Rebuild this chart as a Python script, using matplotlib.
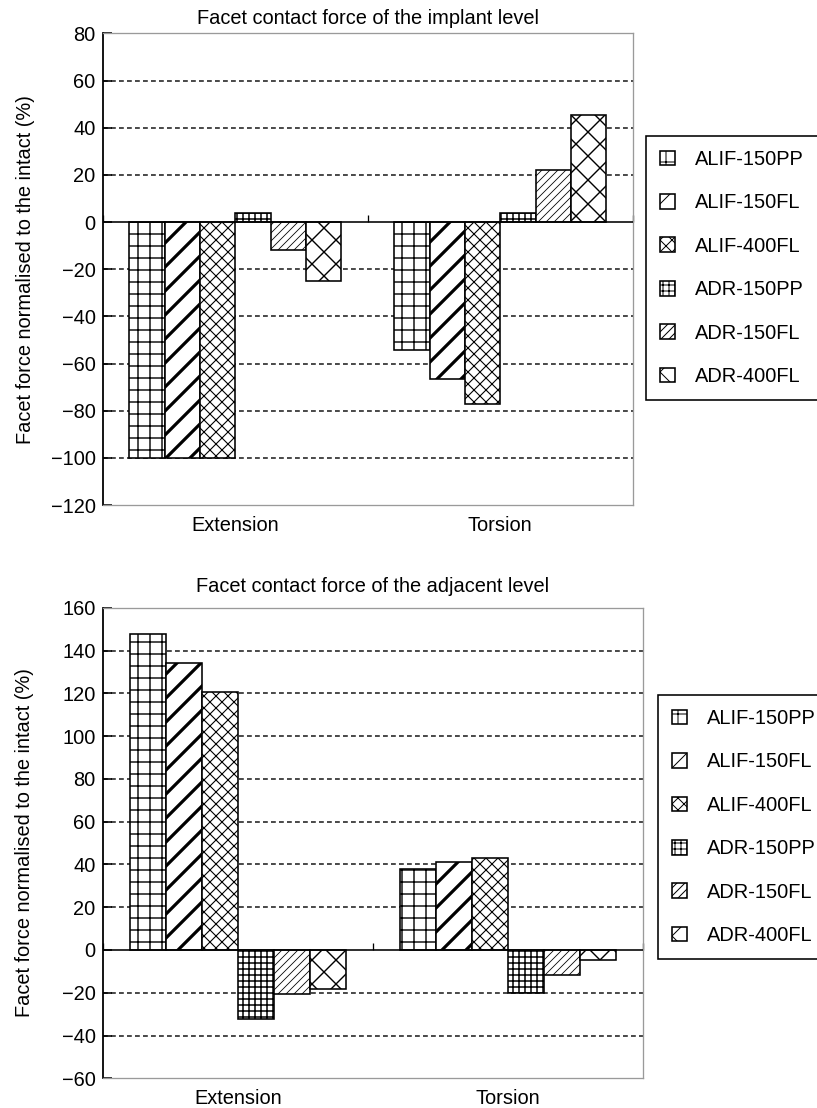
import matplotlib
matplotlib.use("Agg")
import matplotlib.pyplot as plt
import numpy as np

# Facet contact force, normalised to the intact spine (%)

categories = ["Extension", "Torsion"]
series = ["ALIF-150PP", "ALIF-150FL", "ALIF-400FL", "ADR-150PP", "ADR-150FL", "ADR-400FL"]

# implant level, one value per series
implant_extension = [-100, -100, -100, 4, -11.7, -24.8]
implant_torsion = [-54.3, -66.7, -77.2, 4, 22.2, 45.4]

# adjacent level, one value per series
adjacent_extension = [147.6, 134, 120.8, -32.5, -20.5, -18.4]
adjacent_torsion = [37.7, 41, 43.2, -20, -11.6, -4.7]

# hatch style per series (pattern, hatch line width)
hatches = ["+", "/", "xx", "++", "///", "x"]
hatch_lw = [1.4, 3.2, 1.1, 1.5, 0.8, 1.4]

plt.rcParams["font.family"] = ["Liberation Sans", "DejaVu Sans"]
FS = 20
GREY = "#9a9a9a"


def draw_panel(ax, ext_vals, tor_vals, ylim, title, title_pad, legend_anchor):
    x = np.arange(len(categories))
    n = len(series)
    width = 0.8 / n

    ymin, ymax = ylim
    yticks = np.arange(ymin, ymax + 1, 20)

    # dashed gridlines at the inner ticks only
    for v in yticks[1:-1]:
        if v != 0:
            ax.axhline(v, color="#222222", lw=1.6, ls=(0, (3, 2)), zorder=0.5)

    for i, name in enumerate(series):
        vals = [ext_vals[i], tor_vals[i]]
        with plt.rc_context({"hatch.linewidth": hatch_lw[i]}):
            bars = ax.bar(x + (i - (n - 1) / 2) * width, vals, width,
                          color="white", edgecolor="black", linewidth=1.6,
                          hatch=hatches[i], label=name, zorder=2)
        for b in bars:
            if hasattr(b, "set_hatch_linewidth"):
                b.set_hatch_linewidth(hatch_lw[i])

    ax.axhline(0, color="black", lw=1.6, zorder=3)

    ax.set_xlim(-0.5, len(categories) - 0.5)
    ax.set_ylim(ymin, ymax)
    ax.set_yticks(yticks)
    ax.set_xticks(x)
    ax.set_xticklabels(categories)
    ax.tick_params(axis="x", length=0, pad=11, labelsize=FS)
    ax.tick_params(axis="y", direction="in", length=9, width=1.6, pad=7, labelsize=FS)

    for side in ["top", "right", "bottom"]:
        ax.spines[side].set_color(GREY)
        ax.spines[side].set_linewidth(1.3)
    ax.spines["left"].set_linewidth(1.8)

    # small category-boundary ticks sitting on the zero line
    frac = (0 - ymin) / (ymax - ymin)
    sec = ax.secondary_xaxis(frac)
    sec.xaxis.set_ticks_position("bottom")
    sec.set_xticks(np.arange(len(categories) + 1) - 0.5)
    sec.tick_params(direction="in", length=7, width=1.3, labelbottom=False, labeltop=False)
    for s in sec.spines.values():
        s.set_visible(False)

    ax.set_title(title, fontsize=FS, pad=title_pad)
    ax.set_ylabel("Facet force normalised to the intact (%)", fontsize=FS)
    ax.yaxis.set_label_coords(-0.128, 0.5)

    leg = ax.legend(loc="upper left", bbox_to_anchor=legend_anchor,
                    bbox_transform=ax.figure.transFigure, fontsize=FS,
                    fancybox=False, edgecolor="black", framealpha=1,
                    handlelength=0.75, handleheight=0.75, handletextpad=1.0,
                    labelspacing=1.22, borderpad=0.7, borderaxespad=0)
    leg.get_frame().set_linewidth(1.6)


def main():
    fig = plt.figure(figsize=(817 / 72, 1108 / 72), dpi=72)
    ax1 = fig.add_axes([0.1257, 0.5442, 0.6487, 0.4257])
    ax2 = fig.add_axes([0.1257, 0.0268, 0.6613, 0.4247])

    draw_panel(ax1, implant_extension, implant_torsion, (-120, 80),
               "Facet contact force of the implant level", 9, (0.7907, 0.8773))
    draw_panel(ax2, adjacent_extension, adjacent_torsion, (-60, 160),
               "Facet contact force of the adjacent level", 16, (0.8054, 0.3727))

    fig.savefig("out.png", dpi=72)


if __name__ == "__main__":
    main()
